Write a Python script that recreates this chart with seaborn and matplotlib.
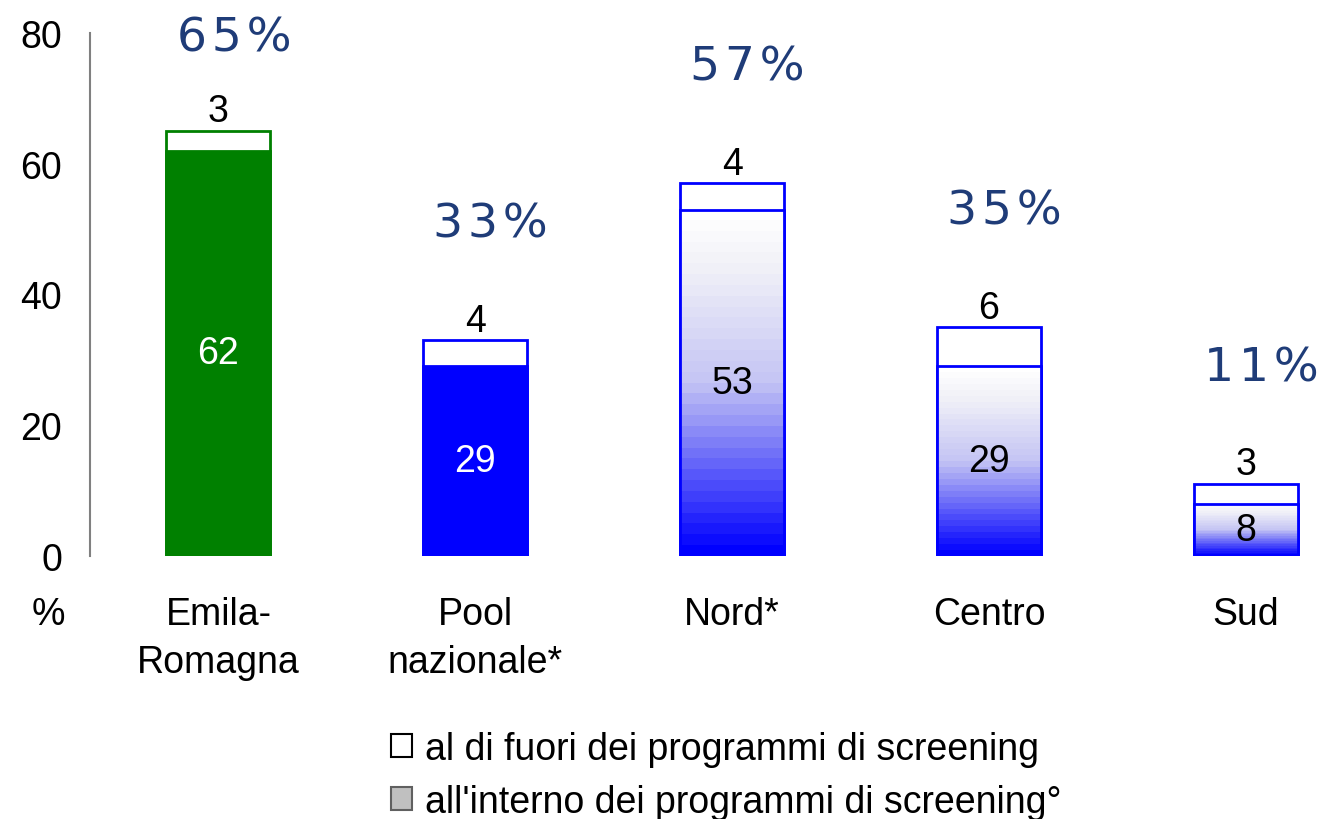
import matplotlib
matplotlib.use("Agg")
import matplotlib.pyplot as plt
from matplotlib.colors import LinearSegmentedColormap
from matplotlib.patches import Patch
import seaborn as sns
import numpy as np
import pandas as pd

# data
categories = ["Emila-\nRomagna", "Pool\nnazionale*", "Nord*", "Centro", "Sud"]
inside_screening = [62, 29, 53, 29, 8]
outside_screening = [3, 4, 4, 6, 3]
total_pct = ["65%", "33%", "57%", "35%", "11%"]
edge_colors = ["#008000", "#0000FF", "#0000FF", "#0000FF", "#0000FF"]
fill_colors = ["#008000", "#0000FF", "#0000FF", "#0000FF", "#0000FF"]
gradient_bar = [False, False, True, True, True]
inner_label_colors = ["white", "white", "black", "black", "black"]
legend_labels = ["al di fuori dei programmi di screening",
                 "all'interno dei programmi di screening°"]

df = pd.DataFrame({
    "cat": categories,
    "inside": inside_screening,
    "outside": outside_screening,
})
df["total"] = df["inside"] + df["outside"]

sns.set_style("white")
plt.rcParams["font.family"] = ["Liberation Sans", "DejaVu Sans"]
plt.rcParams["text.color"] = "black"
plt.rcParams["xtick.color"] = "black"
plt.rcParams["ytick.color"] = "black"

fig = plt.figure(figsize=(13.28, 8.2), dpi=100)
ax = fig.add_axes([90 / 1328, 263 / 820, 1238 / 1328, 523 / 820])

bar_w = 0.405
sns.barplot(data=df, x="cat", y="total", hue="cat", palette=["white"] * 5,
            width=bar_w, legend=False, ax=ax, saturation=1)
sns.barplot(data=df, x="cat", y="inside", hue="cat", palette=fill_colors,
            width=bar_w, legend=False, ax=ax, saturation=1)

patches = ax.patches
outer_p = patches[:5]
inner_p = patches[5:10]
for i, p in enumerate(outer_p):
    p.set_edgecolor(edge_colors[i])
    p.set_linewidth(2)
for i, p in enumerate(inner_p):
    p.set_edgecolor(edge_colors[i])
    p.set_linewidth(2)
    p.set_zorder(2)

# white -> blue gradient for the lower segment of some bars
steps = 32
t = np.linspace(0, 1, steps)
grad = t.reshape(-1, 1)
cmap = LinearSegmentedColormap.from_list(
    "wb", [(0, "#0000FF"), (0.5, "#C4C4F4"), (0.85, "#F2F2F8"), (1, "#FFFFFF")])
for i, p in enumerate(inner_p):
    if gradient_bar[i]:
        x0 = p.get_x()
        w = p.get_width()
        h = p.get_height()
        p.set_facecolor("none")
        im = ax.imshow(grad, cmap=cmap, vmin=0, vmax=1, origin="lower", aspect="auto",
                       extent=[x0, x0 + w, 0, h], interpolation="nearest", zorder=1.5)
        im.set_clip_path(p)

ax.set_xlim(-0.5, 4.32)
ax.set_ylim(0, 80)
ax.set_yticks([0, 20, 40, 60, 80])
ax.set_xlabel("")
ax.set_ylabel("")
ax.set_xticks(range(5))
ax.set_xticklabels(categories, fontsize=27, linespacing=1.42)
ax.tick_params(axis="x", length=0, pad=29)
ax.tick_params(axis="y", length=12, width=1.5, color="#808080", labelsize=27, pad=8)
for s in ["top", "right", "bottom"]:
    ax.spines[s].set_visible(False)
ax.spines["left"].set_color("#808080")
ax.spines["left"].set_linewidth(1.5)

# labels
for i, row in df.iterrows():
    ax.text(i, row["inside"] / 2, str(row["inside"]), ha="center", va="center",
            fontsize=27, color=inner_label_colors[i], zorder=5)
    ax.text(i, row["total"] + 3.0, str(row["outside"]), ha="center", va="center",
            fontsize=27, color="black")
    spaced = "\u200a".join(total_pct[i])
    ax.text(i + 0.06, min(row["total"] + 17.8, 79.2), spaced, ha="center",
            va="center", fontsize=34, color="#1F3C78", family="DejaVu Sans")

fig.text(48 / 1328, 1 - 615 / 820, "%", ha="center", va="center", fontsize=27)

handles = [Patch(facecolor="white", edgecolor="black", linewidth=1.5),
           Patch(facecolor="#C0C0C0", edgecolor="#606060", linewidth=1.5)]
fig.legend(handles, legend_labels, loc="upper left",
           bbox_to_anchor=(391 / 1328, 1 - 732 / 820), frameon=False,
           prop={"size": 27},
           handlelength=0.55, handleheight=0.55, handletextpad=0.35, labelspacing=0.45,
           borderpad=0, borderaxespad=0)

fig.savefig("out.png", dpi=100)
